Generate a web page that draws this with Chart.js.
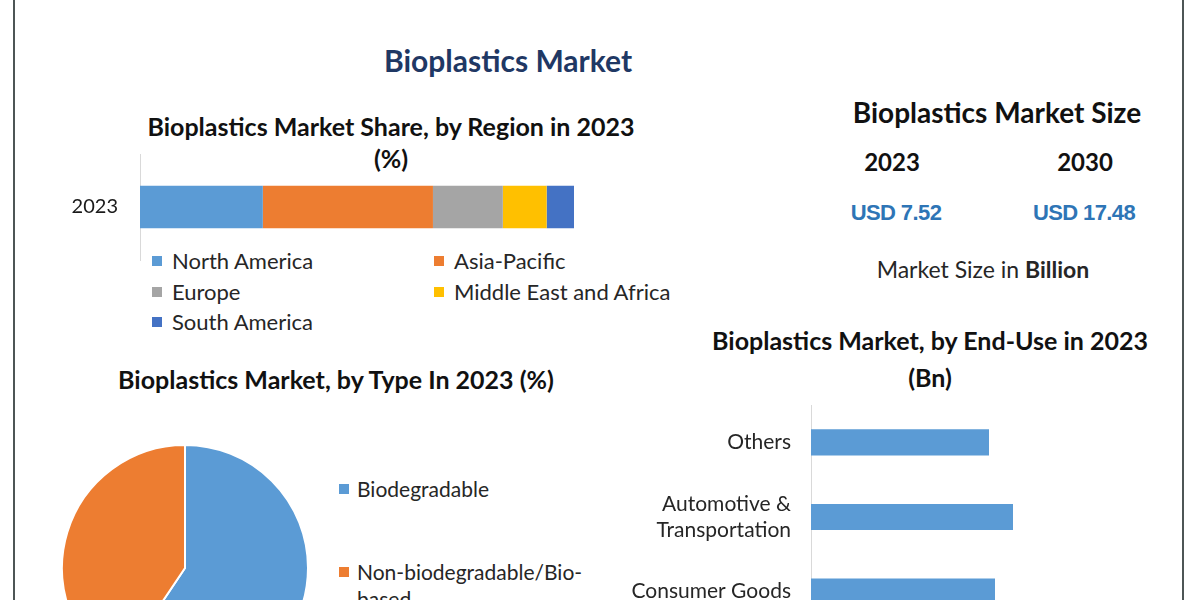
<!DOCTYPE html>
<html>
<head>
<meta charset="utf-8">
<script src="https://cdn.jsdelivr.net/npm/chart.js@4.4.1/dist/chart.umd.min.js"></script>
<style>
  html, body { margin:0; padding:0; background:#fff; width:1200px; height:600px; overflow:hidden; }
  body { position:relative; font-family: Lato, "Open Sans", sans-serif; color:#1a1a1a; }
  .abs { position:absolute; white-space:nowrap; }
  .ct { text-align:center; width:700px; }
  .vline { position:absolute; top:0; width:2px; height:600px; background:#4d5656; }
  .lg { position:absolute; font-size:22px; color:#262626; white-space:nowrap; line-height:26px; }
  .sq { position:absolute; width:10px; height:10px; }
  .cw { position:absolute; }
  .cw canvas { display:block; }
</style>
</head>
<body>
<div class="vline" style="left:13px"></div>
<div class="vline" style="left:1182px"></div>

<div id="titles"></div>
<div id="legends"></div>

<div class="cw" style="left:40px;top:150px;"><canvas id="region" width="540" height="112"></canvas></div>
<div class="cw" style="left:61px;top:444px;"><canvas id="type" width="248" height="248"></canvas></div>
<div class="cw" style="left:611px;top:400px;"><canvas id="enduse" width="560" height="234"></canvas></div>

<script>
// ---- data ----
const regionCategories = ['2023'];
const regionNames = ['North America', 'Asia-Pacific', 'Europe', 'Middle East and Africa', 'South America'];
const regionShares = [28.3, 39.2, 16.1, 10.1, 6.3];
const regionColors = ['#5b9bd5', '#ed7d31', '#a5a5a5', '#ffc000', '#4472c4'];

const typeNames = ['Biodegradable', 'Non-biodegradable/Bio-based'];
const typeShares = [59.4, 40.6];
const typeColors = ['#5b9bd5', '#ed7d31'];

const endUseLabels = [['Others'], ['Automotive &', 'Transportation'], ['Consumer Goods']];
const endUseValues = [0.89, 1.01, 0.92];

const marketYears = ['2023', '2030'];
const marketValues = ['USD 7.52', 'USD 17.48'];

// ---- texts ----
const T = document.getElementById('titles');
function addText(txt, cx, cy, size, opts) {
  opts = opts || {};
  const d = document.createElement('div');
  d.className = 'abs ct';
  d.style.left = (cx - 350) + 'px';
  d.style.top = (cy - size * 0.65) + 'px';
  d.style.fontSize = size + 'px';
  d.style.lineHeight = (size * 1.3) + 'px';
  d.style.fontWeight = opts.weight || 700;
  d.style.color = opts.color || '#111';
  if (opts.family) d.style.fontFamily = opts.family;
  if (opts.ls) d.style.letterSpacing = opts.ls;
  if (opts.html) d.innerHTML = txt; else d.textContent = txt;
  T.appendChild(d);
}
addText('Bioplastics Market', 508, 60, 30, {color:'#1f3864'});
addText('Bioplastics Market Share, by Region in 2023', 391, 126, 25);
addText('(%)', 391, 158, 25);
addText('Bioplastics Market Size', 997, 112, 28);
addText(marketYears[0], 892, 162, 24, {color:'#111'});
addText(marketYears[1], 1085, 162, 24, {color:'#111'});
addText(marketValues[0], 896, 213, 22, {color:'#2e75b6', family:'"Liberation Sans", Arial, sans-serif', ls:'-0.6px'});
addText(marketValues[1], 1084, 213, 22, {color:'#2e75b6', family:'"Liberation Sans", Arial, sans-serif', ls:'-0.6px'});
addText('Market Size in <b>Billion</b>', 983, 270, 23, {weight:400, color:'#262626', html:true});
addText('Bioplastics Market, by End-Use in 2023', 930, 340, 25);
addText('(Bn)', 930, 377, 25);
addText('Bioplastics Market, by Type In 2023 (%)', 336, 379, 25);

// ---- legends (HTML) ----
const L = document.getElementById('legends');
function addLegend(name, color, x, y, extra) {
  const s = document.createElement('div');
  s.className = 'sq';
  s.style.left = x + 'px'; s.style.top = (y - 5) + 'px'; s.style.background = color;
  L.appendChild(s);
  const t = document.createElement('div');
  t.className = 'lg';
  t.style.left = (x + 20) + 'px'; t.style.top = (y - 13) + 'px';
  t.textContent = name;
  if (extra) Object.assign(t.style, extra);
  L.appendChild(t);
}
const regionLegendPos = [[152,261],[434,261],[152,292],[434,292],[152,322]];
regionNames.forEach((n,i)=>addLegend(n, regionColors[i], regionLegendPos[i][0], regionLegendPos[i][1]));
addLegend(typeNames[0], typeColors[0], 339, 489, {fontSize:'21px', left:'357px'});
addLegend(typeNames[1], typeColors[1], 339, 572, {fontSize:'21px', left:'357px', whiteSpace:'normal', width:'240px', lineHeight:'27px', top:'558px'});

// ---- charts ----
Chart.defaults.font.family = 'Lato, "Open Sans", sans-serif';
Chart.defaults.animation = false;

function fixAxis(w) {
  return s => { s.width = w; s.paddingTop = 0; s.paddingBottom = 0; };
}

new Chart(document.getElementById('region'), {
  type: 'bar',
  data: {
    labels: regionCategories,
    datasets: regionNames.map((n,i)=>({ label:n, data:[regionShares[i]], backgroundColor:regionColors[i], borderWidth:0 }))
  },
  options: {
    indexAxis: 'y', responsive: false,
    layout: { padding: { top: 4, bottom: 2, right: 6, left: 0 } },
    plugins: { legend: { display:false }, tooltip: { enabled:false } },
    datasets: { bar: { categoryPercentage: 1, barPercentage: 0.4 } },
    scales: {
      x: { stacked: true, display: false, min: 0, max: 100 },
      y: { stacked: true, grid: { display:false, drawTicks:false },
           border: { display:true, color:'#d9d9d9', width:1 },
           ticks: { padding: 22, color:'#1a1a1a', font:{ size:20 } },
           afterFit: fixAxis(100) }
    }
  }
});

new Chart(document.getElementById('type'), {
  type: 'pie',
  data: { labels: typeNames, datasets: [{ data: typeShares, backgroundColor: typeColors, borderColor:'#ffffff', borderWidth:2 }] },
  options: {
    responsive: false,
    layout: { padding: 0 },
    plugins: { legend: { display:false }, tooltip: { enabled:false } }
  }
});

new Chart(document.getElementById('enduse'), {
  type: 'bar',
  data: { labels: endUseLabels, datasets: [{ data: endUseValues, backgroundColor:'#5b9bd5', borderWidth:0 }] },
  options: {
    indexAxis: 'y', responsive: false,
    layout: { padding: { top: 5, bottom: 5, right: 0, left: 0 } },
    plugins: { legend: { display:false }, tooltip: { enabled:false } },
    datasets: { bar: { categoryPercentage: 1, barPercentage: 0.35 } },
    scales: {
      x: { display: false, min: 0, max: 1.8 },
      y: { grid: { display:false, drawTicks:false },
           border: { display:true, color:'#d9d9d9', width:1 },
           ticks: { padding: 20, color:'#262626', font:{ size:21, lineHeight:1.25 } },
           afterFit: fixAxis(200) }
    }
  }
});
</script>
</body>
</html>
